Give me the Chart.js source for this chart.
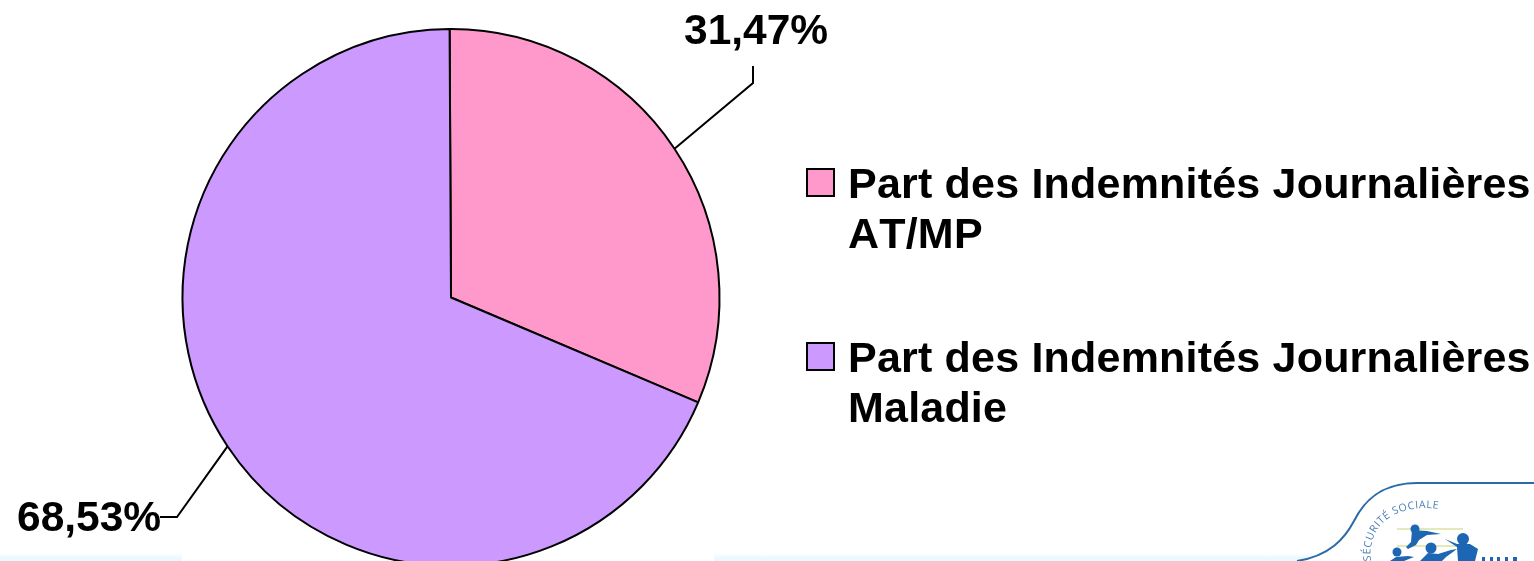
<!DOCTYPE html>
<html lang="fr">
<head>
<meta charset="utf-8">
<title>Part des Indemnités Journalières</title>
<script src="https://cdn.jsdelivr.net/npm/chart.js@4"></script>
<style>
  html, body { margin: 0; width: 1534px; height: 561px; overflow: hidden; background: #fff; }
  #wrap { position: relative; width: 1534px; height: 561px; overflow: hidden; }
  .strip { position: absolute; top: 545px; height: 16px;
    background: linear-gradient(#ffffff 0%, #fdfeff 55%, #e9f9fe 80%, #e9f9fe 100%); }
  #chartIJ { position: absolute; left: 0; top: 0; }
  #logo { position: absolute; left: 0; top: 0; }
</style>
</head>
<body>
<div id="wrap">
  <div class="strip" style="left:0;width:182px"></div>
  <div class="strip" style="left:714px;width:820px"></div>
  <canvas id="chartIJ" width="1534" height="600"></canvas>
  <svg id="logo" width="1534" height="561" viewBox="0 0 1534 561">
    <defs>
      <filter id="soft"><feGaussianBlur stdDeviation="0.5"/></filter>
      <path id="ring" d="M1371 561 C1368 540 1378 524 1392 516 C1408 507 1428 506 1448 511"/>
    </defs>
    <path d="M1297 561 C1330 556 1345 538 1354 521 C1366 497 1385 483 1417 483 L1534 483 L1534 561 Z" fill="#fff"/>
    <g filter="url(#soft)">
      <path d="M1397 529 L1463 529 M1397 546 L1463 546" stroke="#dbe3a0" stroke-width="1.5" fill="none"/>
      <path d="M1297 561 C1330 556 1345 538 1354 521 C1366 497 1385 483 1417 483 L1534 483" fill="none" stroke="#2b6aa5" stroke-width="2"/>
      <text font-family="Open Sans" font-size="10.5" fill="#4a7fb5" letter-spacing="0.6"><textPath href="#ring">SÉCURITÉ SOCIALE</textPath></text>
      <g fill="#1b66b3">
        <circle cx="1415" cy="529" r="4.5"/>
        <path d="M1412 530 L1427 531 L1441 534 L1427 535 L1419 540 L1416 545 L1408 549 L1406 547 L1411 542 Z"/>
        <circle cx="1463" cy="539" r="6"/>
        <path d="M1445 539 L1457 544 L1470 544 L1478 549 L1475 561 L1458 561 L1457 547 Z"/>
        <circle cx="1431" cy="548" r="5.5"/>
        <path d="M1420 561 L1428 553 L1438 554 L1451 550 L1457 549 L1446 557 L1442 561 Z"/>
        <circle cx="1397" cy="552" r="4.5"/>
        <path d="M1390 561 L1396 557 L1408 556 L1414 557 L1404 561 Z"/>
        <path d="M1482 557 h3 v4 h-3 z M1490 557 h3 v4 h-3 z M1497 557 h3 v4 h-3 z M1505 557 h3 v4 h-3 z M1513 557 h4 v4 h-4 z"/>
      </g>
    </g>
  </svg>
</div>
<script>
const categories = [
  ['Part des Indemnités Journalières', 'AT/MP'],
  ['Part des Indemnités Journalières', 'Maladie']
];
const shares = [31.47, 68.53];
const shareLabels = ['31,47%', '68,53%'];
const sliceColors = ['#ff99cc', '#cc99ff'];

const FONT = 'bold 43px "Liberation Sans", Arial, sans-serif';
const VALUE_FONT = 'bold 42.5px "Liberation Sans", Arial, sans-serif';

// leader lines, value labels and the two line legend are not things the pie does by itself
const calloutPlugin = {
  id: 'callouts',
  afterDraw(chart) {
    const c = chart.ctx;
    const arcs = chart.getDatasetMeta(0).data;
    c.save();
    c.font = VALUE_FONT;
    c.fontKerning = 'none';
    c.fillStyle = '#000';
    c.strokeStyle = '#000';
    c.lineWidth = 2;
    c.textBaseline = 'alphabetic';
    c.textAlign = 'left';

    const callouts = [
      { elbow: [753, 83], end: [753, 66], x: 684, y: 44 },
      { elbow: [177, 517], end: [160, 517], x: 17, y: 531 }
    ];
    arcs.forEach((arc, i) => {
      const p = arc.getProps(['x', 'y', 'startAngle', 'endAngle', 'outerRadius'], true);
      const mid = (p.startAngle + p.endAngle) / 2;
      const o = callouts[i];
      c.beginPath();
      c.moveTo(p.x + Math.cos(mid) * p.outerRadius, p.y + Math.sin(mid) * p.outerRadius);
      c.lineTo(o.elbow[0], o.elbow[1]);
      c.lineTo(o.end[0], o.end[1]);
      c.stroke();
      c.fillText(shareLabels[i], o.x, o.y);
    });

    c.font = FONT;
    c.letterSpacing = '0.2px';
    const legendTop = [169, 343];
    categories.forEach((lines, i) => {
      c.fillStyle = sliceColors[i];
      c.lineWidth = 2;
      c.fillRect(807, legendTop[i], 27, 27);
      c.strokeRect(807, legendTop[i], 27, 27);
      c.fillStyle = '#000';
      c.fillText(lines[0], 848, legendTop[i] + 29);
      c.fillText(lines[1], 848, legendTop[i] + 79);
    });
    c.restore();
  }
};

new Chart(document.getElementById('chartIJ'), {
  type: 'pie',
  data: {
    labels: categories.map(l => l.join(' ')),
    datasets: [{
      data: shares,
      backgroundColor: sliceColors,
      borderColor: '#000',
      borderWidth: 2,
      borderAlign: 'center'
    }]
  },
  options: {
    responsive: false,
    animation: false,
    rotation: -0.3,
    layout: { padding: { left: 181, right: 813, top: 28, bottom: 33 } },
    plugins: { legend: { display: false }, tooltip: { enabled: false } }
  },
  plugins: [calloutPlugin]
});
</script>
</body>
</html>
